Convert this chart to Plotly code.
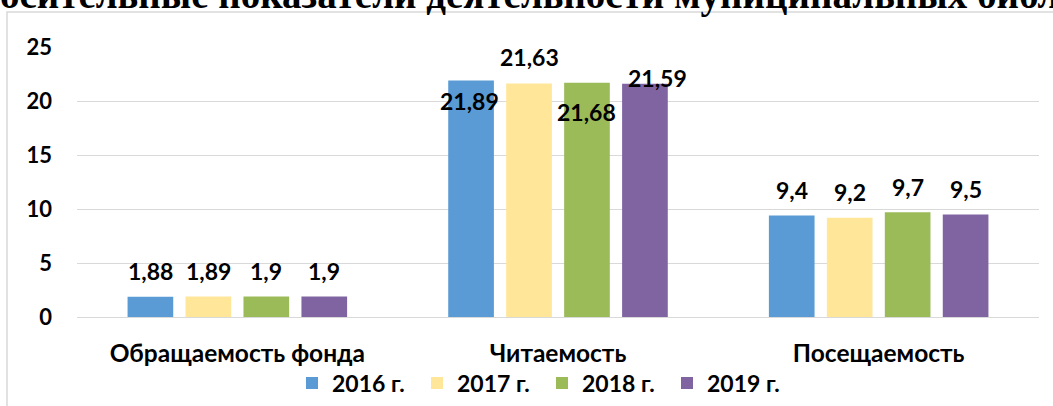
import plotly.graph_objects as go

# ---- data ----
categories = ["Обращаемость фонда", "Читаемость", "Посещаемость"]
years = ["2016 г.", "2017 г.", "2018 г.", "2019 г."]
v2016 = [1.88, 21.89, 9.4]
v2017 = [1.89, 21.63, 9.2]
v2018 = [1.9, 21.68, 9.7]
v2019 = [1.9, 21.59, 9.5]
label_2016 = ["1,88", "21,89", "9,4"]
label_2017 = ["1,89", "21,63", "9,2"]
label_2018 = ["1,9", "21,68", "9,7"]
label_2019 = ["1,9", "21,59", "9,5"]
y_ticks = [0, 5, 10, 15, 20, 25]
title_text = "Относительные показатели деятельности муниципальных библиотек"

series = [v2016, v2017, v2018, v2019]
labels = [label_2016, label_2017, label_2018, label_2019]
colors = ["#5B9BD5", "#FFE699", "#9BBB59", "#8064A2"]

# label placement tweaks (pixels): (xshift, yshift of label centre from bar top)
shifts = [
    [(0, 25.5), (-2, -20.5), (0, 25.5)],
    [(0, 25.5), (0, 26), (0, 25.5)],
    [(0, 25.5), (0, -29.5), (0, 25.5)],
    [(0, 25.5), (12.5, 6), (0, 25.5)],
]

W, H = 1053, 406
L, R, T, B = 77, 14, 47, 89
pw, ph = W - L - R, H - T - B

def px_x(p):
    return (p - L) / pw

def px_y(p):
    return (H - B - p) / ph

FONT = "Lato"
bargap = 0.277
slot = (1 - bargap) / len(series)

fig = go.Figure()
for i, (yr, vals) in enumerate(zip(years, series)):
    fig.add_trace(go.Bar(
        x=categories, y=vals, name=yr,
        marker=dict(color=colors[i], line=dict(width=0)),
        hoverinfo="skip",
    ))

annotations = []
for i, vals in enumerate(series):
    off = (i - (len(series) - 1) / 2) * slot
    for j, v in enumerate(vals):
        xs, ys = shifts[i][j]
        annotations.append(dict(
            x=j + off, y=v, xref="x", yref="y",
            text=labels[i][j], showarrow=False,
            xanchor="center", yanchor="middle",
            xshift=xs, yshift=ys,
            font=dict(family=FONT, size=23, color="#000000", weight="bold"),
        ))

# partially cropped document title above the chart frame
annotations.append(dict(
    x=px_x(-74), y=px_y(19), xref="paper", yref="paper",
    text=title_text, showarrow=False, xanchor="left", yanchor="bottom",
    font=dict(family="Liberation Serif", size=39, color="#000000", weight="bold"),
))

fig.update_layout(
    width=W, height=H,
    margin=dict(l=L, r=R, t=T, b=B, pad=0, autoexpand=False),
    paper_bgcolor="#FFFFFF", plot_bgcolor="#FFFFFF",
    barmode="group", bargap=bargap, bargroupgap=0.212,
    font=dict(family=FONT, size=21, color="#000000", weight="bold"),
    showlegend=True,
    legend=dict(
        orientation="h", x=px_x(292), xanchor="left",
        y=px_y(383), yanchor="middle",
        font=dict(family=FONT, size=23, color="#000000", weight="bold"),
        entrywidth=80, entrywidthmode="pixels",
        itemclick=False, itemdoubleclick=False,
        bgcolor="rgba(0,0,0,0)",
    ),
    xaxis=dict(
        type="category", showgrid=False, showline=False, ticks="",
        automargin=False, ticklabelstandoff=19,
        tickfont=dict(family=FONT, size=24.5, color="#000000", weight="bold"),
    ),
    yaxis=dict(
        range=[0, 25], tickvals=y_ticks, showgrid=True, gridcolor="#D9D9D9",
        gridwidth=1, zeroline=True, zerolinecolor="#D9D9D9", zerolinewidth=1,
        showline=False, ticks="", ticklabelstandoff=24, automargin=False,
        tickfont=dict(family=FONT, size=22, color="#000000", weight="bold"),
    ),
    annotations=annotations,
    shapes=[dict(
        type="rect", xref="paper", yref="paper",
        x0=px_x(7), x1=px_x(1070), y0=px_y(430), y1=px_y(12),
        line=dict(color="#D9D9D9", width=1.5), fillcolor="rgba(0,0,0,0)",
        layer="below",
    )],
)

fig.write_html(
    "out.html",
    config={"displayModeBar": False, "staticPlot": True},
    post_script="document.body.style.margin='0';document.body.style.overflow='hidden';",
)
